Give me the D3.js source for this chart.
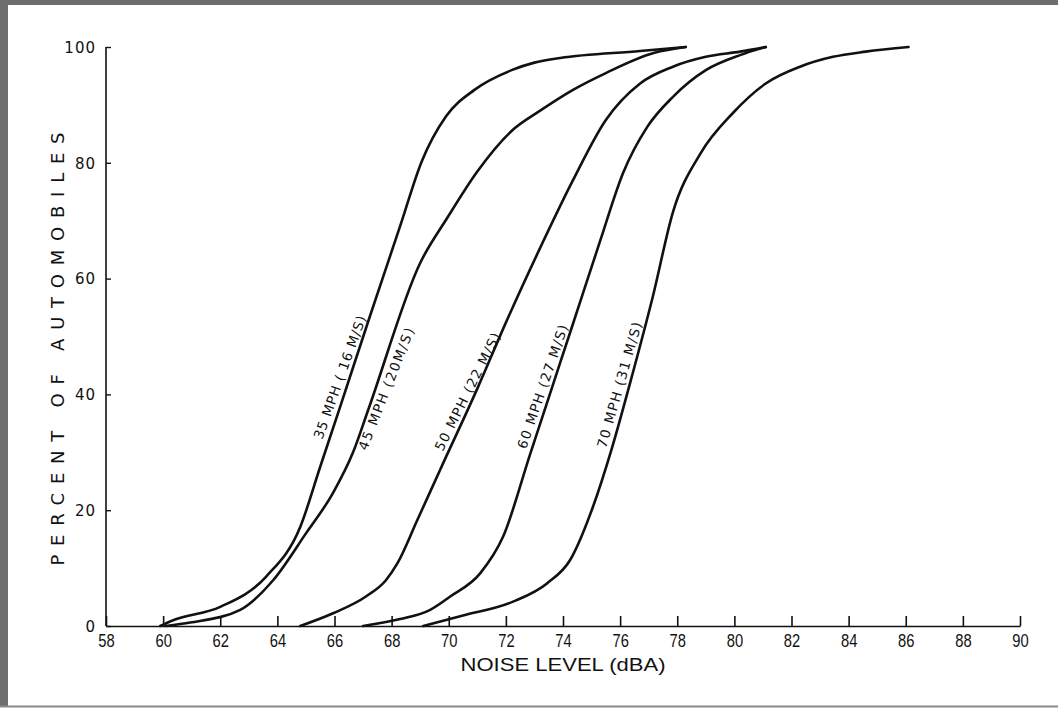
<!DOCTYPE html>
<html><head><meta charset="utf-8">
<script src="https://cdn.jsdelivr.net/npm/d3@7"></script>
<style>body{margin:0;background:#fff}svg{display:block}</style>
</head><body>
<svg id="c" width="1058" height="715"></svg>
<script>
// ---- data ----
const xTickValues = [58,60,62,64,66,68,70,72,74,76,78,80,82,84,86,88,90];
const yTickValues = [0,20,40,60,80,100];
const seriesLabels = ["35 MPH ( 16 M/S)", "45 MPH (20M/S)", "50 MPH (22 M/S)", "60 MPH (27 M/S)", "70 MPH (31 M/S)"];

const noise35 = [59.9, 60.35, 62.0, 63.6, 64.8, 65.5, 66.2, 67.24, 68.3, 69.05, 69.9, 70.9, 72.2, 73.0, 73.9, 76.7, 78.3];
const pct35   = [0,    1,     3.3,  8.5,  17.1, 27.5, 37.9, 53.5,  69.1, 80.2,  88,   92.6, 96.0, 97.3, 98.1, 99.3, 100];

const noise45 = [60.1, 60.95, 62.7, 63.85, 65.0, 65.95, 66.65, 67.2, 69.0, 69.95, 71.0, 72.2, 73.2, 74.35, 75.5, 77.2, 78.3];
const pct45   = [0,    0.6,   2.8,  7.9,   16,   23,    30,    37.6, 62.7, 70.5,  78.5, 85.5, 89,   92.6,  95.5, 99,   100];

const noise50 = [64.8, 65.95, 67.1, 67.8, 68.2, 68.9, 69.7, 71.0, 72.0, 73.2, 74.35, 75.5, 76.7, 77.85, 79.0, 80.2, 81.1];
const pct50   = [0,    2.2,   5.1,  7.9,  10.8, 18.3, 27,   41,   52.4, 65.3, 77,    87.4, 93.7, 96.6,  98.3, 99.2, 100];

const noise60 = [67.0, 68.3, 69.35, 70.05, 71.1, 71.9, 72.85, 73.65, 74.35, 75.3, 76.1, 76.95, 77.85, 79.0, 80.2, 81.1];
const pct60   = [0,    1.2,  2.8,   5.1,   9.1,  15.4, 29.7,  41.7,  52.2,  66.5, 78.2, 86.2,  91.4,  96,   98.6, 100];

const noise70 = [69.1, 70.5, 72.25, 73.45, 74.25, 75.05, 75.7, 76.35, 77.15, 77.85, 78.8, 79.95, 81.1, 82.3, 83.45, 84.6, 86.1];
const pct70   = [0,    1.8,  4.2,   7.4,   11.4,  20.6,  30.5, 42,    57,    71.5,  81.5, 88.6,  93.7, 96.6, 98.3,  99.2, 100];

const labelNoise = [66.21, 67.83, 70.68, 73.31, 76.0];
const labelPct   = [42.9, 40.9, 40.4, 41.3, 41.6];

// ---- build ----
const series = [
  {noise: noise35, pct: pct35},
  {noise: noise45, pct: pct45},
  {noise: noise50, pct: pct50},
  {noise: noise60, pct: pct60},
  {noise: noise70, pct: pct70}
];
const labelAngles = [-70.2, -68.5, -63.4, -71.1, -74];

const svg = d3.select("#c");
const x = d3.scaleLinear().domain([58, 90]).range([106, 1020]);
const y = d3.scaleLinear().domain([0, 100]).range([626, 47]);

// scanned-page frame
svg.append("rect").attr("x",0).attr("y",0).attr("width",1058).attr("height",5).attr("fill","#6e6e6e");
svg.append("rect").attr("x",0).attr("y",0).attr("width",8).attr("height",706).attr("fill","#6e6e6e");
svg.append("line").attr("x1",0).attr("x2",1058).attr("y1",706.5).attr("y2",706.5).attr("stroke","#8a8a8a").attr("stroke-width",2);

const font = "'DejaVu Sans',sans-serif";
const narrow = "'Liberation Sans','Arial',sans-serif";

// x axis
const xAxis = d3.axisBottom(x).tickValues(xTickValues).tickSize(0).tickPadding(0).tickFormat(d3.format("d"));
const gx = svg.append("g").attr("transform","translate(0,626)").call(xAxis);
gx.select(".domain").attr("stroke","#111").attr("stroke-width",1.6);
gx.selectAll(".tick line").remove();
gx.selectAll(".tick").append("line").attr("y1",0).attr("y2",-10).attr("stroke","#111").attr("stroke-width",1.6);
gx.selectAll(".tick text").attr("y",8).attr("dy","0.71em")
  .attr("transform","scale(0.82,1)")
  .attr("font-family",narrow).attr("font-size",18).attr("fill","#111");

// y axis
const yAxis = d3.axisLeft(y).tickValues(yTickValues).tickSize(0).tickPadding(0);
const gy = svg.append("g").attr("transform","translate(106,0)").call(yAxis);
gy.select(".domain").attr("stroke","#111").attr("stroke-width",1.6).attr("d","M0,626V47");
gy.selectAll(".tick line").remove();
gy.selectAll(".tick").append("line").attr("x1",0).attr("x2",5).attr("stroke","#111").attr("stroke-width",1.4);
gy.selectAll(".tick text").attr("x",-10).attr("dy","0.35em")
  .attr("font-family",font).attr("font-size",15)
  .attr("letter-spacing",1).attr("fill","#111");

// axis titles
svg.append("text").attr("x",563).attr("y",671).attr("text-anchor","middle")
  .attr("font-family",narrow).attr("font-size",19)
  .attr("textLength",205).attr("lengthAdjust","spacingAndGlyphs").attr("fill","#111")
  .text("NOISE LEVEL (dBA)");
svg.append("text").attr("transform","translate(64,349) rotate(-90)").attr("text-anchor","middle")
  .attr("font-family",font).attr("font-size",18)
  .attr("textLength",433).attr("lengthAdjust","spacing").attr("fill","#111")
  .text("PERCENT OF AUTOMOBILES");

// curves
const line = d3.line().x(d => x(d[0])).y(d => y(d[1])).curve(d3.curveMonotoneX);
series.forEach(s => {
  const pts = s.noise.map((v, i) => [v, s.pct[i]]);
  svg.append("path").attr("d", line(pts)).attr("fill","none")
    .attr("stroke","#111").attr("stroke-width",2.6).attr("stroke-linejoin","round").attr("stroke-linecap","round");
});

// curve labels
seriesLabels.forEach((t, i) => {
  svg.append("text")
    .attr("transform", `translate(${x(labelNoise[i])},${y(labelPct[i])}) rotate(${labelAngles[i]})`)
    .attr("text-anchor","middle").attr("dominant-baseline","middle")
    .attr("font-family",font).attr("font-size",13.5)
    .attr("textLength",130).attr("lengthAdjust","spacing").attr("fill","#111")
    .text(t);
});
</script>
</body></html>
